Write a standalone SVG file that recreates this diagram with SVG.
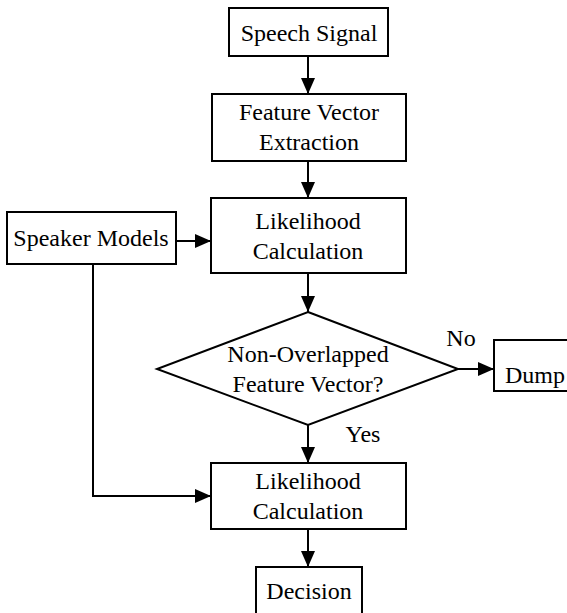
<svg xmlns="http://www.w3.org/2000/svg" width="567" height="613" viewBox="0 0 567 613">
<style>
.box{fill:#fff;stroke:#000;stroke-width:2}
.c{fill:none;stroke:#000;stroke-width:2}
text{font-family:'Liberation Serif','Times New Roman',serif;font-size:24px;fill:#000}
.m{text-anchor:middle}
</style>
<defs>
<marker id="ah" markerUnits="userSpaceOnUse" markerWidth="18" markerHeight="14" refX="16" refY="7" orient="auto">
<path d="M0,0 L16,7 L0,14 Z" fill="#000"/>
</marker>
</defs>
<rect width="567" height="613" fill="#fff"/>
<g id="connectors">
<path class="c" d="M308,56 V94" marker-end="url(#ah)"/>
<path class="c" d="M308,161 V198" marker-end="url(#ah)"/>
<path class="c" d="M176,241 H211" marker-end="url(#ah)"/>
<path class="c" d="M308,273 V312" marker-end="url(#ah)"/>
<path class="c" d="M458,369 H494" marker-end="url(#ah)"/>
<path class="c" d="M308,425 V463" marker-end="url(#ah)"/>
<path class="c" d="M93,264 V496 H211" marker-end="url(#ah)"/>
<path class="c" d="M308,529 V567" marker-end="url(#ah)"/>
<text class="m" x="461" y="346">No</text>
<text class="m" x="363" y="442">Yes</text>
</g>
<g id="speech-signal">
<rect class="box" x="229" y="8" width="159" height="48"/>
<text class="m" x="309" y="41">Speech Signal</text>
</g>
<g id="feature-extraction">
<rect class="box" x="212" y="94" width="194" height="67"/>
<text class="m" x="309" y="120">Feature Vector</text>
<text class="m" x="309" y="150">Extraction</text>
</g>
<g id="speaker-models">
<rect class="box" x="7" y="212" width="169" height="52"/>
<text class="m" x="91" y="246">Speaker Models</text>
</g>
<g id="likelihood-1">
<rect class="box" x="211" y="198" width="195" height="75"/>
<text class="m" x="308" y="229">Likelihood</text>
<text class="m" x="308" y="259">Calculation</text>
</g>
<g id="decision-diamond">
<path class="box" d="M308,312 L458,369 L308,425 L157,369 Z"/>
<text class="m" x="308" y="362">Non-Overlapped</text>
<text class="m" x="308" y="392">Feature Vector?</text>
</g>
<g id="dump">
<rect class="box" x="494" y="340" width="80" height="51"/>
<text x="505" y="383">Dump</text>
</g>
<g id="likelihood-2">
<rect class="box" x="211" y="463" width="195" height="66"/>
<text class="m" x="308" y="489">Likelihood</text>
<text class="m" x="308" y="519">Calculation</text>
</g>
<g id="decision">
<rect class="box" x="256" y="567" width="106" height="52"/>
<text class="m" x="309" y="599">Decision</text>
</g>
</svg>
